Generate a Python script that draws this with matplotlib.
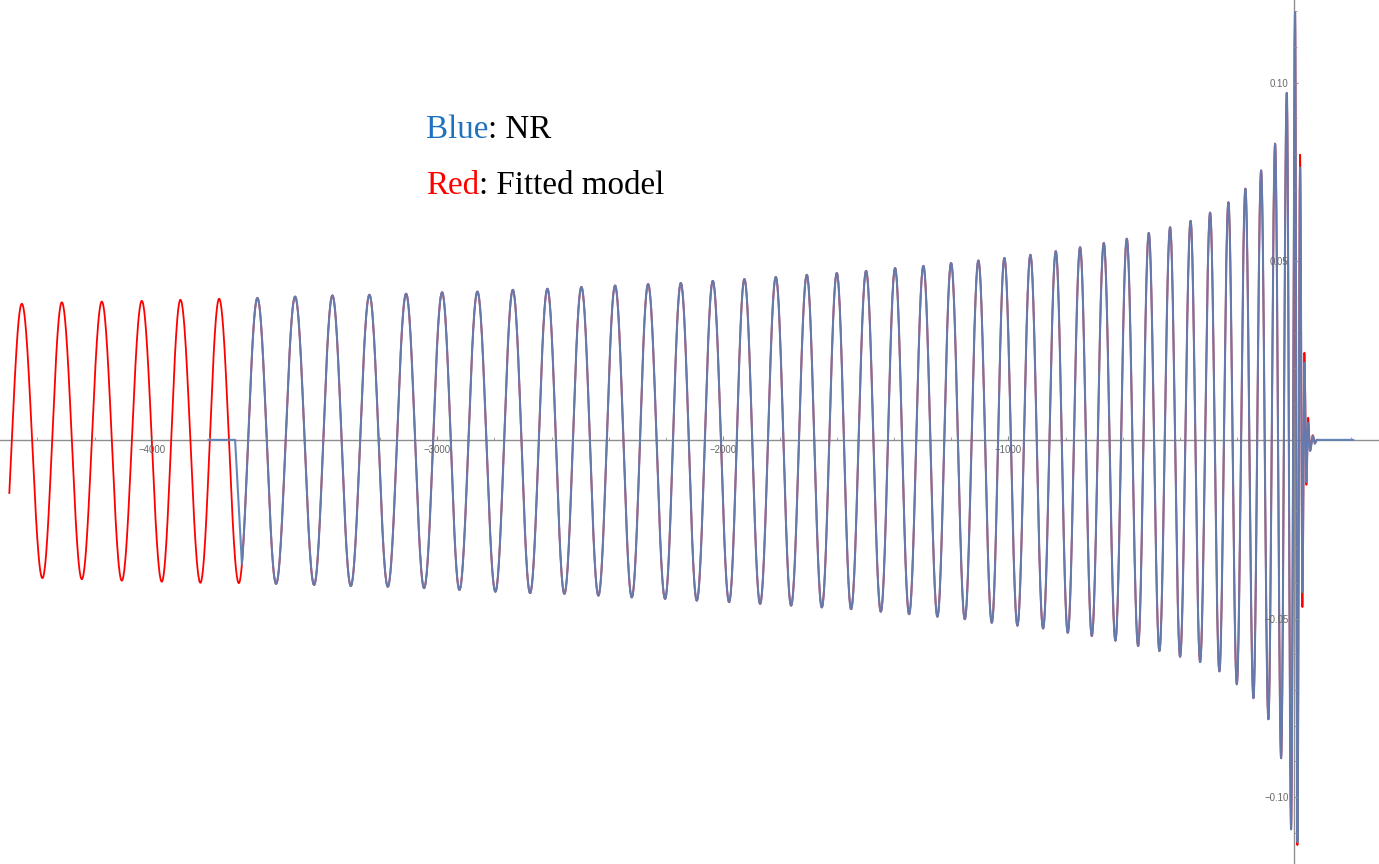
import numpy as np
import matplotlib
matplotlib.use("Agg")
import matplotlib.pyplot as plt
from matplotlib.ticker import FixedLocator, FixedFormatter

# ---------------- data ----------------
# Extrema (alternating troughs / peaks) of the waveforms, time t and strain h.
# Fitted model, part before the NR data begins (first trough lies just left of the view)
model_t_start = -4500.0
model_early_t = [-4524.8, -4454.8, -4382.7, -4314.7, -4244.7, -4174.7,
                 -4104.7, -4034.7, -3964.7, -3899.5, -3829.5, -3764.0]
model_early_h = [-0.0385, 0.0381, -0.0387, 0.0385, -0.0390, 0.0387,
                 -0.0394, 0.0389, -0.0397, 0.0392, -0.0400, 0.0395]

# NR inspiral extrema (the fitted model lies on top of these within the line width)
nr_t = [-3695.0, -3629.9, -3564.4, -3497.9, -3431.4, -3367.3, -3302.9, -3237.7, -3173.3, -3109.2,
        -3046.2, -2983.2, -2922.6, -2859.6, -2796.6, -2735.6, -2675.1, -2614.5, -2555.0, -2495.5,
        -2435.9, -2377.5, -2319.0, -2261.9, -2202.4, -2147.4, -2091.4, -2035.4, -1978.3, -1924.7,
        -1869.7, -1814.8, -1761.2, -1706.2, -1653.7, -1601.2, -1551.1, -1498.6, -1447.1, -1397.1,
        -1348.0, -1298.0, -1248.9, -1201.0, -1153.0, -1105.4, -1058.5, -1014.4, -968.8, -923.3,
        -878.9, -834.4, -792.4, -749.3, -708.3, -666.3, -625.7, -585.8, -546.2, -508.8,
        -471.6, -434.2, -399.2, -362.4, -329.1, -294.1, -261.6, -230.0, -200.6, -170.5,
        -142.5, -115.5, -90.0, -66.5, -45.5, -25.6, -10.5, 3.5]
nr_h = [-0.0401, 0.0397, -0.0403, 0.0401, -0.0406, 0.0404, -0.0409, 0.0406, -0.0411, 0.0409,
        -0.0415, 0.0413, -0.0420, 0.0415, -0.0425, 0.0420, -0.0429, 0.0423, -0.0431, 0.0428,
        -0.0436, 0.0432, -0.0441, 0.0436, -0.0445, 0.0439, -0.0450, 0.0445, -0.0454, 0.0450,
        -0.0459, 0.0456, -0.0464, 0.0462, -0.0469, 0.0467, -0.0474, 0.0473, -0.0481, 0.0481,
        -0.0488, 0.0487, -0.0495, 0.0495, -0.0502, 0.0502, -0.0512, 0.0509, -0.0520, 0.0518,
        -0.0528, 0.0528, -0.0540, 0.0539, -0.0549, 0.0551, -0.0562, 0.0563, -0.0577, 0.0579,
        -0.0591, 0.0595, -0.0607, 0.0613, -0.0622, 0.0636, -0.0648, 0.0665, -0.0684, 0.0703,
        -0.0723, 0.0754, -0.0782, 0.0829, -0.0891, 0.0971, -0.1090, 0.1197]

# NR: zero padding before its signal, and the point where the signal starts
nr_pad_t = [-3801.5, -3708.0]
nr_pad_h = [0.0, 0.0]
nr_t_start = -3684.5

# Merger / ringdown extrema
ring_t = [11.6, 21.0, 29.1, 36.1, 43.1, 49.0, 56.0, 65.5, 72.5, 80.0]
nr_ring_h = [-0.1126, 0.0762, -0.0426, 0.0216, -0.0118, 0.0048, -0.0031, 0.0011, -0.0011, 0.0]
model_ring_h = [-0.1134, 0.0798, -0.0468, 0.0244, -0.0126, 0.0062, -0.0030, 0.0013, -0.0008, 0.0]

# NR tail after the ringdown
nr_tail_t = [80.0, 207.0]
nr_tail_h = [0.0, 0.0]

# Axes
x_major = [-4000, -3000, -2000, -1000]
x_labels = ["\u22124000", "\u22123000", "\u22122000", "\u22121000"]
x_minor = list(range(-4400, 201, 200))
y_major = [-0.10, -0.05, 0.05, 0.10]
y_labels = ["\u22120.10", "\u22120.05", "0.05", "0.10"]
y_minor = [k / 100 for k in range(-11, 13) if k != 0]
x_range = (-4531.2, 297.3)
y_range = (-0.1187, 0.1231)

NR_COLOR = "#5E81B5"
MODEL_COLOR = "#FF0000"
AXIS_COLOR = "#8f8f8f"


def wave_through_extrema(ts, hs, t_from=None, n=48):
    """Draw a smooth oscillation through the given extrema (half-cosine between them)."""
    pts_t, pts_h = [], []
    for i in range(len(ts) - 1):
        s = np.linspace(0.0, 1.0, n, endpoint=False)
        pts_t.append(ts[i] + (ts[i + 1] - ts[i]) * s)
        pts_h.append((hs[i] + hs[i + 1]) / 2 + (hs[i] - hs[i + 1]) / 2 * np.cos(np.pi * s))
    pts_t.append(np.array([ts[-1]]))
    pts_h.append(np.array([hs[-1]]))
    t = np.concatenate(pts_t)
    h = np.concatenate(pts_h)
    if t_from is not None:
        keep = t >= t_from
        t, h = t[keep], h[keep]
    return t, h


# model curve
mt, mh = wave_through_extrema(model_early_t + nr_t + ring_t,
                              model_early_h + nr_h + model_ring_h,
                              t_from=model_t_start)
# NR curve
ct, ch = wave_through_extrema(nr_t + ring_t, nr_h + nr_ring_h, t_from=nr_t_start)
nt = np.concatenate([nr_pad_t, ct, nr_tail_t[1:]])
nh = np.concatenate([nr_pad_h, ch, nr_tail_h[1:]])

fig = plt.figure(figsize=(13.79, 8.64), dpi=100)
ax = fig.add_axes([0, 0, 1, 1])
ax.set_facecolor("white")

ax.plot(mt, mh, color=MODEL_COLOR, lw=1.3, zorder=3, solid_joinstyle="round")
ax.plot(nt, nh, color=NR_COLOR, lw=1.5, alpha=0.95, zorder=4, solid_joinstyle="round")

ax.set_xlim(*x_range)
ax.set_ylim(*y_range)

for side in ("top", "right"):
    ax.spines[side].set_visible(False)
ax.spines["left"].set_position(("data", 0))
ax.spines["bottom"].set_position(("data", 0))
for side in ("left", "bottom"):
    ax.spines[side].set_color(AXIS_COLOR)
    ax.spines[side].set_linewidth(1.0)
    ax.spines[side].set_zorder(1)

ax.xaxis.set_major_locator(FixedLocator(x_major))
ax.xaxis.set_major_formatter(FixedFormatter(x_labels))
ax.xaxis.set_minor_locator(FixedLocator(x_minor))
ax.yaxis.set_major_locator(FixedLocator(y_major))
ax.yaxis.set_major_formatter(FixedFormatter(y_labels))
ax.yaxis.set_minor_locator(FixedLocator(y_minor))
ax.xaxis.set_zorder(5)
ax.yaxis.set_zorder(5)

ax.tick_params(which="major", direction="in", length=3.2, width=0.8, color=AXIS_COLOR,
               labelsize=6.9, labelcolor="#666666", pad=4)
ax.tick_params(which="minor", direction="in", length=2.0, width=0.6, color=AXIS_COLOR)
for lab in ax.get_xticklabels() + ax.get_yticklabels():
    lab.set_fontfamily("Liberation Sans")

# annotation text
TXT = dict(family="Liberation Serif", fontsize=23.8)
t1 = fig.text(426 / 1379, 1 - 138.3 / 864, "Blue", color="#1F72BE", va="baseline", ha="left", **TXT)
ax.annotate(": NR", xy=(1, 0), xycoords=t1, va="bottom", ha="left", color="black",
            annotation_clip=False, **TXT)
t2 = fig.text(426 / 1379, 1 - 194 / 864, "Red", color="#FF0000", va="baseline", ha="left", **TXT)
ax.annotate(": Fitted model", xy=(1, 0), xycoords=t2, va="bottom", ha="left", color="black",
            annotation_clip=False, **TXT)

fig.savefig("out.png", dpi=100, facecolor="white")
